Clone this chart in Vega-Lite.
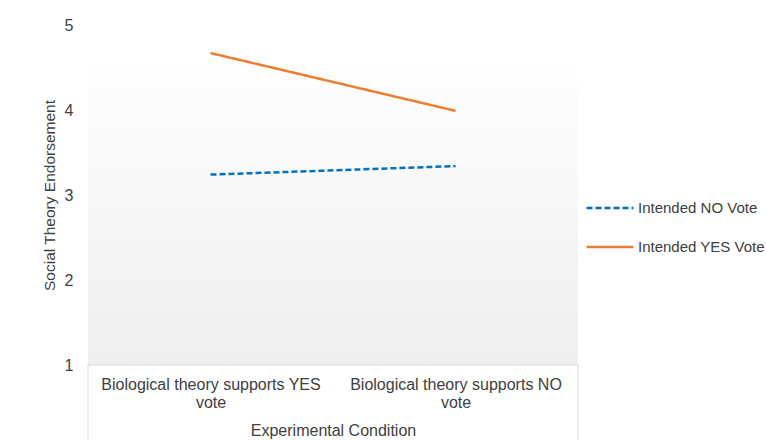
{
  "$schema": "https://vega.github.io/schema/vega-lite/v6.json",
  "width": 490,
  "height": 340,
  "autosize": "none",
  "padding": {"left": 88, "top": 25, "right": 188, "bottom": 75},
  "config": {
    "view": {"stroke": null},
    "font": "Liberation Sans"
  },
  "layer": [
    {
      "data": {"values": [{"top": 4.53, "bottom": 1}]},
      "mark": {
        "type": "rect",
        "fill": {
          "gradient": "linear", "x1": 0, "y1": 0, "x2": 0, "y2": 1,
          "stops": [{"offset": 0, "color": "#fefefe"}, {"offset": 1, "color": "#efefef"}]
        }
      },
      "encoding": {
        "y": {
          "field": "top", "type": "quantitative", "scale": {"domain": [1, 5]},
          "axis": {
            "title": "Social Theory Endorsement",
            "titleFont": "Liberation Sans", "titleFontSize": 15.5, "titleFontWeight": "normal", "titleColor": "#404040",
            "titlePadding": 7,
            "values": [1, 2, 3, 4, 5], "format": "d",
            "labelFontSize": 16, "labelColor": "#404040", "labelPadding": 15,
            "ticks": false, "domain": false, "grid": false
          }
        },
        "y2": {"field": "bottom"}
      }
    },
    {
      "data": {"values": [{"top": 1, "bottom": 0.02}]},
      "mark": {"type": "rect", "fill": null, "stroke": "#d9d9d9", "strokeWidth": 1, "clip": false},
      "encoding": {
        "y": {"field": "top", "type": "quantitative"},
        "y2": {"field": "bottom"}
      }
    },
    {
      "data": {
        "values": [
          {"condition": "Biological theory  supports YES vote", "vote": "Intended NO Vote", "score": 3.24},
          {"condition": "Biological theory  supports NO vote", "vote": "Intended NO Vote", "score": 3.34},
          {"condition": "Biological theory  supports YES vote", "vote": "Intended YES Vote", "score": 4.67},
          {"condition": "Biological theory  supports NO vote", "vote": "Intended YES Vote", "score": 3.99}
        ]
      },
      "mark": {"type": "line", "strokeWidth": 2.5},
      "encoding": {
        "x": {
          "field": "condition", "type": "nominal",
          "sort": ["Biological theory  supports YES vote", "Biological theory  supports NO vote"],
          "scale": {"type": "point", "padding": 0.5},
          "axis": {
            "title": "Experimental  Condition",
            "titleFont": "Liberation Sans", "titleFontSize": 16, "titleFontWeight": "normal", "titleColor": "#404040",
            "titlePadding": 12,
            "labelAngle": 0, "labelLimit": 0,
            "labelExpr": "[slice(datum.value, 0, lastindexof(datum.value, ' ')), slice(datum.value, lastindexof(datum.value, ' ') + 1)]",
            "labelFontSize": 16, "labelColor": "#404040", "labelLineHeight": 18, "labelPadding": 11,
            "ticks": false, "domain": false, "grid": false
          }
        },
        "y": {
          "field": "score", "type": "quantitative"
        },
        "color": {
          "field": "vote", "type": "nominal",
          "scale": {"domain": ["Intended NO Vote", "Intended YES Vote"], "range": ["#0070C0", "#ED7D31"]},
          "legend": {
            "title": null, "orient": "none", "legendX": 497, "legendY": 158,
            "symbolType": "stroke", "symbolStrokeWidth": 2.5, "symbolSize": 2200,
            "labelFontSize": 15, "labelColor": "#404040", "labelOffset": 3, "labelLimit": 0,
            "rowPadding": 6
          }
        },
        "strokeDash": {
          "field": "vote", "type": "nominal",
          "scale": {"domain": ["Intended NO Vote", "Intended YES Vote"], "range": [[6, 3], [1, 0]]},
          "legend": {
            "title": null, "orient": "none", "legendX": 497, "legendY": 158,
            "symbolType": "stroke", "symbolStrokeWidth": 2.5, "symbolSize": 2200,
            "labelFontSize": 15, "labelColor": "#404040", "labelOffset": 3, "labelLimit": 0,
            "rowPadding": 6
          }
        }
      }
    }
  ]
}
